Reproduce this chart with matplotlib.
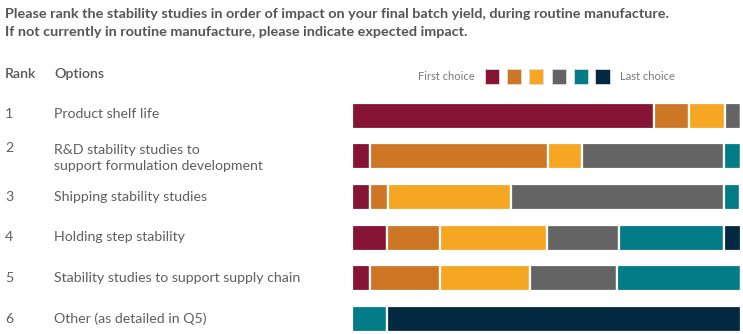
import matplotlib
matplotlib.use("Agg")
import matplotlib.pyplot as plt
from matplotlib.patches import Rectangle

plt.rcParams['font.family'] = ['Lato', 'DejaVu Sans']

W, H = 743, 334

title_lines = [
    "Please rank the stability studies in order of impact on your final batch yield, during routine manufacture.",
    "If not currently in routine manufacture, please indicate expected impact.",
]
ranks = ["1", "2", "3", "4", "5", "6"]
options = [
    "Product shelf life",
    "R&D stability studies to\nsupport formulation development",
    "Shipping stability studies",
    "Holding step stability",
    "Stability studies to support supply chain",
    "Other (as detailed in Q5)",
]
# share (%) of respondents choosing each position: 1st .. 6th choice
choice1 = [77.7, 4.5, 4.7, 8.9, 4.5, 0.0]
choice2 = [8.9, 45.9, 4.5, 13.6, 18.0, 0.0]
choice3 = [9.3, 8.7, 31.6, 27.6, 23.2, 0.0]
choice4 = [4.1, 36.6, 54.8, 18.5, 22.5, 0.0]
choice5 = [0.0, 4.3, 4.3, 27.1, 31.8, 8.9]
choice6 = [0.0, 0.0, 0.0, 4.3, 0.0, 91.1]
series = [choice1, choice2, choice3, choice4, choice5, choice6]
colors = ["#861434", "#CD7724", "#F5A623", "#646464", "#027C86", "#032842"]
legend_first = "First choice"
legend_last = "Last choice"

fig = plt.figure(figsize=(W / 100, H / 100), dpi=100)

def fx(px):
    return px / W

def fy(py):
    return 1 - py / H

# bar axes
x0, x1 = 352.2, 740.8
row_top_center, row_step = 115.8, 40.58
top_px = row_top_center - row_step / 2
ax = fig.add_axes([fx(x0), 0, fx(x1) - fx(x0), fy(top_px)])
ax.set_xlim(0, 100)
ax.set_ylim(5 + (H - 318.7) / row_step, -0.5)
ax.axis("off")

n = len(options)
left = [0.0] * n
for vals, c in zip(series, colors):
    ax.barh(range(n), vals, left=left, height=0.64, color=c,
            edgecolor="white", linewidth=1.6)
    left = [l + v for l, v in zip(left, vals)]

title_color = "#555555"
text_color = "#5f5f5f"

fig.text(fx(5), fy(14), title_lines[0], fontsize=10.35, fontweight="bold",
         color=title_color, va="center", ha="left")
fig.text(fx(5), fy(32.5), title_lines[1], fontsize=10.35, fontweight="bold",
         color=title_color, va="center", ha="left")

fig.text(fx(5), fy(74), "Rank", fontsize=10.2, fontweight="semibold",
         color="#585858", va="center", ha="left")
fig.text(fx(54), fy(74), "Options", fontsize=10.2, fontweight="semibold",
         color="#585858", va="center", ha="left")

label_y = [114.5, 157.8, 196.7, 237.3, 278.3, 319.0]
for r, o, yy in zip(ranks, options, label_y):
    fig.text(fx(5), fy(yy if "\n" not in o else 148.5), r, fontsize=10.2,
             color=text_color, va="center", ha="left")
    fig.text(fx(54), fy(yy), o, fontsize=10.2, color=text_color,
             va="center", ha="left", linespacing=1.42)

# legend
leg_color = "#7a7a7a"
fig.text(fx(475), fy(76.5), legend_first, fontsize=8.0, color=leg_color,
         va="center", ha="right")
sq_x = [485, 507, 529, 551.5, 573.5, 595.3]
for sx, c in zip(sq_x, colors):
    fig.patches.append(Rectangle((fx(sx), fy(84.3)), fx(14.3), 15 / H,
                                 transform=fig.transFigure, facecolor=c,
                                 edgecolor="#dddddd", linewidth=0.6))
fig.text(fx(620), fy(76.5), legend_last, fontsize=8.0, color=leg_color,
         va="center", ha="left")

fig.savefig("out.png", dpi=100)
